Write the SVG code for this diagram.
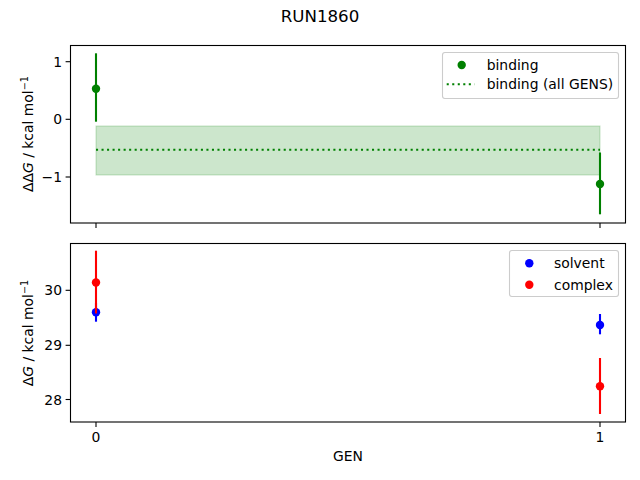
<svg xmlns="http://www.w3.org/2000/svg" width="640" height="480" viewBox="0 0 640 480">
<style>
text{font-family:"DejaVu Sans","Liberation Sans",sans-serif;font-size:13.9px;fill:#000}
.spine{fill:none;stroke:#000;stroke-width:1.1}
.tick{stroke:#000;stroke-width:1.1}
.yt{text-anchor:end}
.xt{text-anchor:middle}
.leg{fill:#fff;fill-opacity:0.8;stroke:#ccc;stroke-width:1.1}
.eg{stroke:#008000;stroke-width:2.1}
.eb{stroke:#0000ff;stroke-width:2.1}
.er{stroke:#ff0000;stroke-width:2.1}
</style>
<rect width="640" height="480" fill="#fff"/>
<text x="320" y="21.7" text-anchor="middle" style="font-size:16.67px">RUN1860</text>

<g id="top-axes">
  <rect x="96" y="126" width="504" height="49" fill="#008000" fill-opacity="0.2" stroke="#008000" stroke-opacity="0.2" stroke-width="1.1"/>
  <line x1="96" y1="149.7" x2="600" y2="149.7" stroke="#008000" stroke-width="2.1" stroke-dasharray="2.08 3.44"/>
  <g id="binding-0">
    <line class="eg" x1="96" y1="53.3" x2="96" y2="121.7"/>
    <circle cx="96" cy="88.7" r="4.2" fill="#008000"/>
  </g>
  <g id="binding-1">
    <line class="eg" x1="600" y1="152.5" x2="600" y2="214.3"/>
    <circle cx="600" cy="184" r="4.2" fill="#008000"/>
  </g>
  <rect class="spine" x="70.5" y="45.5" width="555" height="177.5"/>
  <line class="tick" x1="70.5" y1="61.7" x2="65.6" y2="61.7"/>
  <line class="tick" x1="70.5" y1="119.3" x2="65.6" y2="119.3"/>
  <line class="tick" x1="70.5" y1="177" x2="65.6" y2="177"/>
  <line class="tick" x1="96" y1="223" x2="96" y2="227.9"/>
  <line class="tick" x1="600" y1="223" x2="600" y2="227.9"/>
  <text class="yt" x="62" y="66.8">1</text>
  <text class="yt" x="62" y="124.4">0</text>
  <text class="yt" x="62" y="182.1">−1</text>
  <text transform="translate(33,134) rotate(-90)" text-anchor="middle">ΔΔ<tspan font-style="italic">G</tspan> / kcal mol<tspan dy="-5.5" style="font-size:9.7px">−1</tspan></text>
  <g id="legend-top">
    <rect class="leg" x="442.5" y="52.5" width="176" height="46" rx="2.5"/>
    <circle cx="461.7" cy="65" r="4.2" fill="#008000"/>
    <text x="486.7" y="70">binding</text>
    <line x1="446.7" y1="84.3" x2="474.5" y2="84.3" stroke="#008000" stroke-width="2.1" stroke-dasharray="2.08 3.44"/>
    <text x="486.7" y="89.3">binding (all GENS)</text>
  </g>
</g>

<g id="bottom-axes">
  <g id="solvent-0">
    <line class="eb" x1="96" y1="303" x2="96" y2="321.7"/>
    <circle cx="96" cy="312.3" r="4.2" fill="#0000ff"/>
  </g>
  <g id="solvent-1">
    <line class="eb" x1="600" y1="314" x2="600" y2="334.3"/>
    <circle cx="600" cy="325" r="4.2" fill="#0000ff"/>
  </g>
  <g id="complex-0">
    <line class="er" x1="96" y1="250.7" x2="96" y2="313.5"/>
    <circle cx="96" cy="282.5" r="4.2" fill="#ff0000"/>
  </g>
  <g id="complex-1">
    <line class="er" x1="600" y1="358" x2="600" y2="414"/>
    <circle cx="600" cy="386.3" r="4.2" fill="#ff0000"/>
  </g>
  <rect class="spine" x="70.5" y="243.5" width="555" height="178.5"/>
  <line class="tick" x1="70.5" y1="290.3" x2="65.6" y2="290.3"/>
  <line class="tick" x1="70.5" y1="345.3" x2="65.6" y2="345.3"/>
  <line class="tick" x1="70.5" y1="399.5" x2="65.6" y2="399.5"/>
  <line class="tick" x1="96" y1="422" x2="96" y2="426.9"/>
  <line class="tick" x1="600" y1="422" x2="600" y2="426.9"/>
  <text class="yt" x="62" y="295.4">30</text>
  <text class="yt" x="62" y="350.4">29</text>
  <text class="yt" x="62" y="404.6">28</text>
  <text class="xt" x="96" y="441.5">0</text>
  <text class="xt" x="600" y="441.5">1</text>
  <text x="348" y="461.3" text-anchor="middle">GEN</text>
  <text transform="translate(33,333) rotate(-90)" text-anchor="middle">Δ<tspan font-style="italic">G</tspan> / kcal mol<tspan dy="-5.5" style="font-size:9.7px">−1</tspan></text>
  <g id="legend-bottom">
    <rect class="leg" x="509.5" y="250.5" width="109" height="46" rx="2.5"/>
    <circle cx="529.3" cy="263.3" r="4.2" fill="#0000ff"/>
    <text x="554" y="268.3">solvent</text>
    <circle cx="529.3" cy="284.7" r="4.2" fill="#ff0000"/>
    <text x="554" y="289.7">complex</text>
  </g>
</g>
</svg>
